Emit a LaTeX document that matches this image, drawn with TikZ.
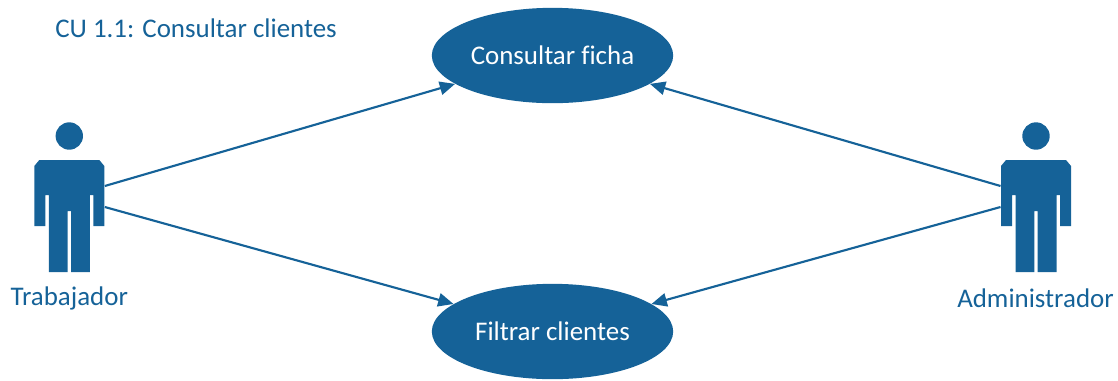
\documentclass[tikz,border=0pt]{standalone}
\usepackage{fontspec}
\setmainfont{Carlito}[Ligatures=NoCommon]
\usetikzlibrary{arrows.meta,shapes.geometric}
\definecolor{cublue}{HTML}{156298}

\begin{document}
\begin{tikzpicture}[x=0.75pt,y=-0.75pt,
usecase/.style = {ellipse, fill=cublue, text=white, font=\fontsize{20.2}{24}\selectfont, 
                  minimum width=181pt, minimum height=71.5pt, inner sep=0pt},
actorname/.style = {text=cublue, font=\fontsize{20.2}{24}\selectfont, inner sep=0pt},
line/.style = {draw=cublue, line width=1.6pt, -{Triangle[length=11.5pt,width=10pt]}},
actor/.pic = {
  \fill[cublue] (0,-136) circle (13.7);
  \fill[cublue] (-30,-112) -- (30,-112) -- (35,-106) -- (35,-46) -- (24,-46) -- (24,-77)
     -- (20.5,-77) -- (20.5,0) -- (1.7,0) -- (1.7,-61) -- (-1.7,-61) -- (-1.7,0)
     -- (-20.5,0) -- (-20.5,-77) -- (-24,-77) -- (-24,-46) -- (-35,-46) -- (-35,-106) -- cycle;
  \coordinate (-up) at (35.5,-86);
  \coordinate (-down) at (35.5,-65);
  \coordinate (-upl) at (-35.5,-86);
  \coordinate (-downl) at (-35.5,-65);
}]
\useasboundingbox (0,0) rectangle (1118,380);

\node [actorname, anchor=west] (title) at (55,28) {CU 1.1: Consultar clientes};

\node [usecase] (ficha) at (552.5,55.5) {Consultar ficha};
\node [usecase] (filtrar) at (552.5,331.5) {Filtrar clientes};

% actors
\pic (trabajador) at (69.3,272) {actor};
\pic (admin) at (1036,272) {actor};
\node [actorname] (trabajadorname) at (69.3,298) {Trabajador};
\node [actorname] (adminname) at (1035.5,298) {Administrador};

\begin{scope}[every path/.style=line]
\path (trabajador-up) -- (ficha);
\path (trabajador-down) -- (filtrar);
\path (admin-upl) -- (ficha);
\path (admin-downl) -- (filtrar);
\end{scope}
\end{tikzpicture}
\end{document}
